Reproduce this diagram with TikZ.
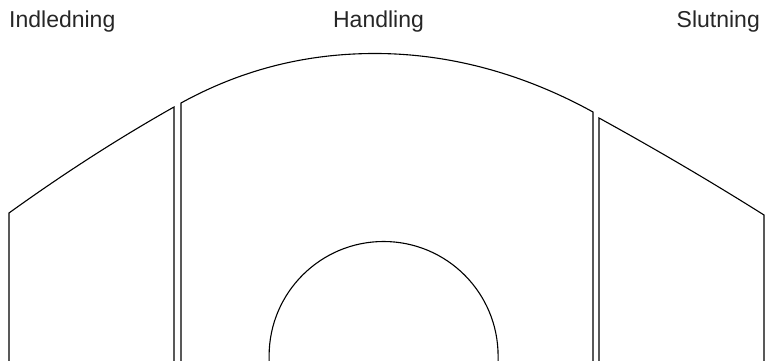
\documentclass[tikz,border=0pt]{standalone}
\usepackage{fontspec}
\setmainfont{Liberation Sans}
\begin{document}
\begin{tikzpicture}[x=1pt,y=1pt,
  edge/.style={line width=1.1pt,black,line join=miter},
  lbl/.style={inner sep=0pt,font=\fontsize{23}{26}\selectfont,text=black!85}]
\useasboundingbox (0,0) rectangle (765,361);
% labels
\node[lbl,anchor=base west] (indl) at (9,333) {Indledning};
\node[lbl,anchor=base] (hand) at (378.5,333) {Handling};
\node[lbl,anchor=base east] (slut) at (760,333) {Slutning};
% left panel
\draw[edge] (9,-2) -- (9,148) .. controls (64,187.6) and (119,223) .. (174,254) -- (174,-2);
% middle panel
\draw[edge] (181,-2) -- (181,258) .. controls (241,291) and (305,307.5) .. (375,307.5)
  .. controls (447,307.5) and (521,288.6) .. (593,249) -- (593,-2);
% right panel
\draw[edge] (599,-2) -- (599,243) .. controls (654,212.75) and (709,180.6) .. (764,146) -- (764,-2);
% inner arch
\draw[edge] (269.1,-2) -- (269.1,5) arc[start angle=180,end angle=0,radius=114.5] -- (498.1,-2);
\end{tikzpicture}
\end{document}
